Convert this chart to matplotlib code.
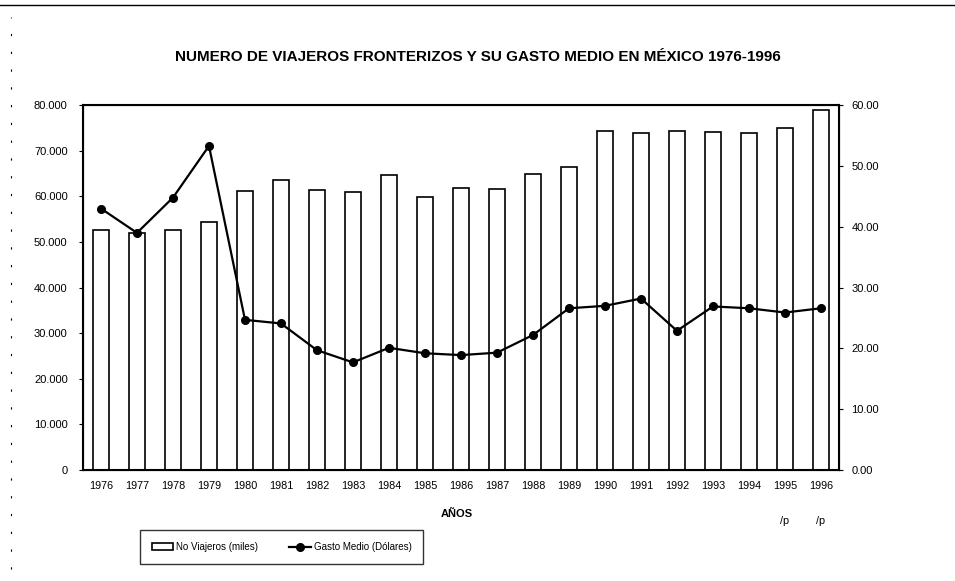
import numpy as np
import matplotlib.pyplot as plt
from matplotlib.lines import Line2D

# datos
anios = ['1976', '1977', '1978', '1979', '1980', '1981', '1982', '1983', '1984', '1985', '1986',
         '1987', '1988', '1989', '1990', '1991', '1992', '1993', '1994', '1995\n\n\n/p', '1996\n\n\n/p']
viajeros = [52600, 52000, 52600, 54300, 61200, 63700, 61500, 60900, 64700, 59900, 61900,
            61700, 64800, 66500, 74400, 73900, 74400, 74200, 73800, 74900, 78900]
gasto = [43.0, 39.0, 44.8, 53.3, 24.7, 24.1, 19.7, 17.7, 20.1, 19.2, 18.9,
         19.3, 22.2, 26.6, 27.0, 28.2, 22.9, 26.9, 26.6, 25.9, 26.6]

yticks_izq = [0, 10000, 20000, 30000, 40000, 50000, 60000, 70000, 80000]
yticks_der = [0, 10, 20, 30, 40, 50, 60]

plt.rcParams['font.family'] = ['Liberation Sans', 'DejaVu Sans']

fig = plt.figure(figsize=(9.55, 5.81), dpi=100)
ax = fig.add_axes([0.0869, 0.191, 0.7916, 0.628])
x = np.arange(len(anios))

barras = ax.bar(x, viajeros, width=0.45, color='white', edgecolor='black', linewidth=1.2,
                label='No Viajeros (miles)')
ax.set_xlim(-0.5, len(anios) - 0.5)
ax.set_ylim(0, 80000)
ax.set_yticks(yticks_izq)
ax.set_yticklabels(['{:,}'.format(v).replace(',', '.') for v in yticks_izq], fontsize=8)
ax.set_xticks(x)
ax.set_xticklabels(anios, fontsize=7.8, va='top')
ax.tick_params(axis='x', length=0, pad=8)
ax.tick_params(axis='y', length=3, pad=8)
for s in ax.spines.values():
    s.set_linewidth(1.5)

ax2 = ax.twinx()
linea, = ax2.plot(x, gasto, color='black', marker='o', markersize=5.5, linewidth=1.6,
                  label='Gasto Medio (Dólares)')
ax2.set_ylim(0, 60)
ax2.set_yticks(yticks_der)
ax2.set_yticklabels(['{:.2f}'.format(v) for v in yticks_der], fontsize=8)
ax2.tick_params(axis='y', length=3, pad=6)

# titulo del eje x
fig.text(0.4785, 0.115, 'AÑOS', ha='center', va='center', fontsize=8, fontweight='bold')

fig.text(0.5, 0.902, 'NUMERO DE VIAJEROS FRONTERIZOS Y SU GASTO MEDIO EN MÉXICO 1976-1996',
         ha='center', va='center', fontsize=11, fontweight='bold')

leg = fig.legend([barras, linea], ['No Viajeros (miles)', 'Gasto Medio (Dólares)'],
                 loc='center', bbox_to_anchor=(0.295, 0.0585), ncol=2, fontsize=7,
                 frameon=True, fancybox=False, edgecolor='black', handlelength=2.2,
                 columnspacing=3.2, borderpad=1.2, handletextpad=0.3)
leg.get_frame().set_linewidth(1.0)

# bordes del escaneo
fig.add_artist(Line2D([0.0, 1.0], [0.992, 0.992], color='black', linewidth=1.0))
fig.add_artist(Line2D([0.011, 0.011], [0.02, 0.97], color='black', linewidth=0.8,
                      linestyle=(0, (2, 14))))

fig.savefig('out.png', dpi=100)
